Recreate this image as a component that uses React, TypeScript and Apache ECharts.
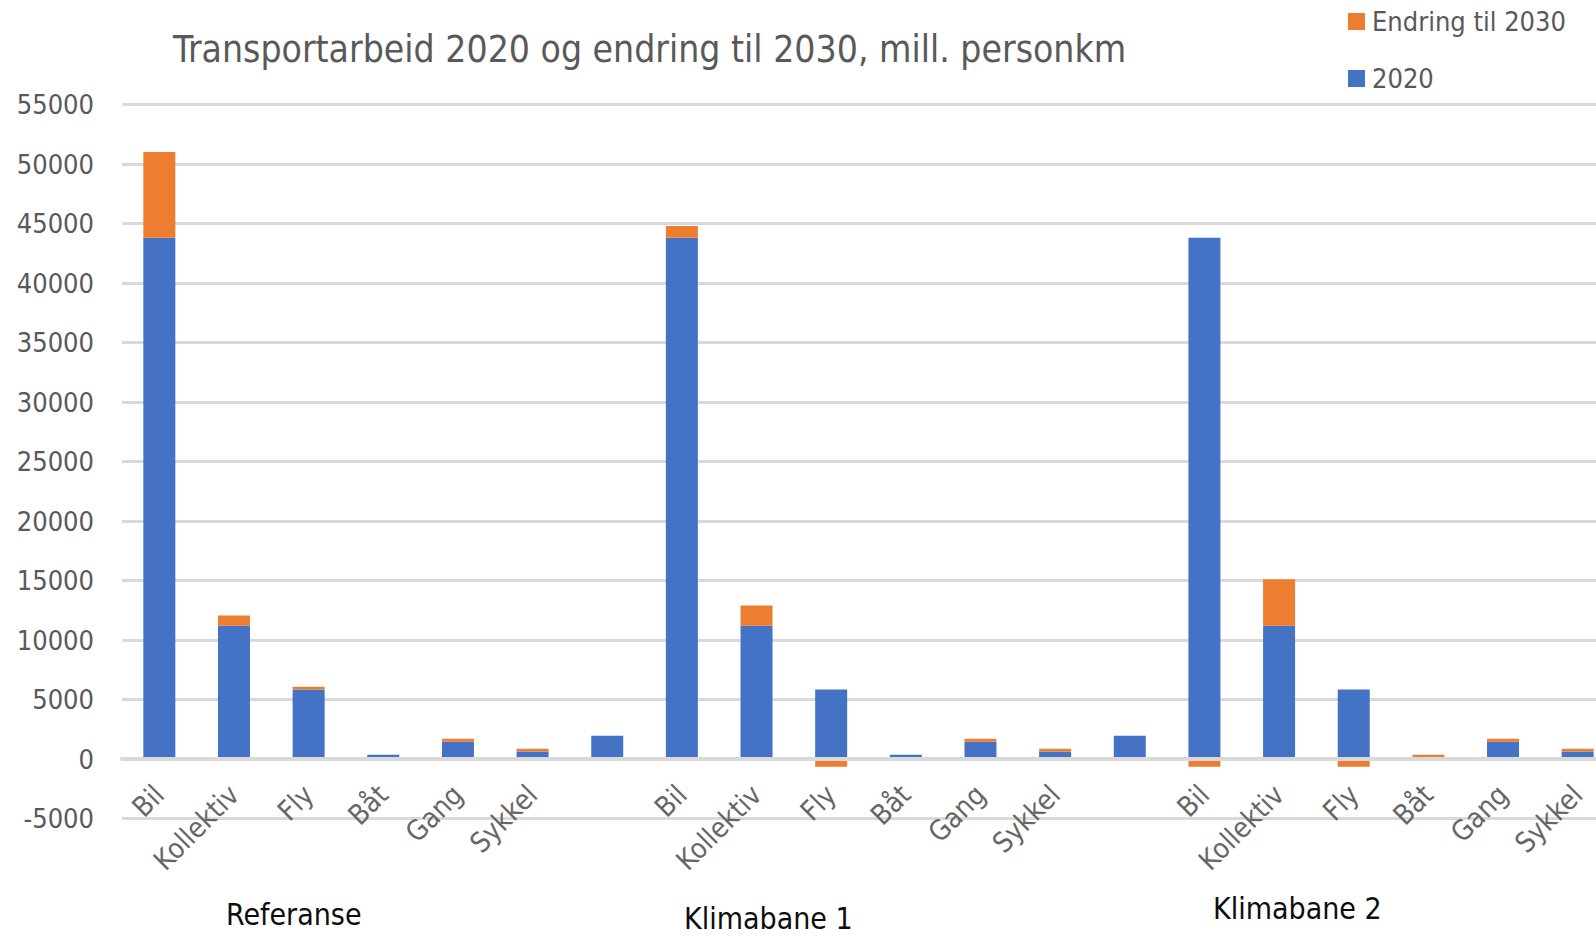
import React, { useEffect, useRef } from "react";
import * as echarts from "echarts";

const categories = [
  "Bil", "Kollektiv", "Fly", "Båt", "Gang", "Sykkel", "",
  "Bil", "Kollektiv", "Fly", "Båt", "Gang", "Sykkel", "",
  "Bil", "Kollektiv", "Fly", "Båt", "Gang", "Sykkel",
];

const values2020 = [
  43800, 11200, 5830, 350, 1460, 620, 1950,
  43800, 11200, 5830, 350, 1460, 620, 1950,
  43800, 11200, 5830, 0, 1460, 620,
];

const valuesChange = [
  7200, 850, 250, 0, 250, 250, 0,
  1000, 1700, -650, 0, 250, 250, 0,
  -650, 3900, -650, 350, 250, 250,
];

const groupLabels = ["Referanse", "Klimabane 1", "Klimabane 2"];

const yTicks = { min: -5000, max: 55000, interval: 5000 };

const FONT = '"DejaVu Sans Condensed", "Liberation Sans Narrow", "Open Sans", sans-serif';

const GRID_TOP = 104.5;
const GRID_BOTTOM_PX = 818.5;
const CHART_W = 1640;
const CHART_H = 936;

export default function App() {
  const ref = useRef<HTMLDivElement>(null);

  useEffect(() => {
    if (!ref.current) return;
    const chart = echarts.init(ref.current, undefined, { renderer: "svg" });
    const plotH = GRID_BOTTOM_PX - GRID_TOP;
    const zeroOffset =
      ((0 - yTicks.min) / (yTicks.max - yTicks.min)) * plotH;
    chart.setOption({
      animation: false,
      backgroundColor: "#ffffff",
      title: {
        text: "Transportarbeid 2020 og endring til 2030, mill. personkm",
        left: 168,
        top: 26,
        textStyle: {
          fontFamily: FONT,
          fontSize: 37,
          fontWeight: "normal",
          color: "#595959",
        },
      },
      legend: {
        data: ["Endring til 2030", "2020"],
        orient: "vertical",
        left: 1343,
        top: 3,
        itemWidth: 17,
        itemHeight: 17,
        itemGap: 30,
        icon: "rect",
        textStyle: {
          fontFamily: FONT,
          fontSize: 27,
          color: "#595959",
          padding: [0, 0, 0, 2],
        },
      },
      grid: {
        left: 122,
        right: 25,
        top: GRID_TOP,
        bottom: CHART_H - GRID_BOTTOM_PX,
        containLabel: false,
      },
      xAxis: {
        type: "category",
        data: categories,
        z: 5,
        offset: -zeroOffset,
        axisLine: {
          onZero: false,
          lineStyle: { color: "#d9d9d9", width: 4 },
        },
        axisTick: { show: false },
        axisLabel: {
          interval: 0,
          rotate: 45,
          margin: 31,
          fontFamily: FONT,
          fontSize: 28,
          color: "#666666",
        },
      },
      yAxis: {
        type: "value",
        min: yTicks.min,
        max: yTicks.max,
        interval: yTicks.interval,
        axisLine: { show: false },
        axisTick: { show: false },
        axisLabel: {
          margin: 28,
          fontFamily: FONT,
          fontSize: 27,
          color: "#595959",
          formatter: (v: number) => String(v),
        },
        splitLine: { lineStyle: { color: "#d9d9d9", width: 3 } },
      },
      series: [
        {
          name: "2020",
          type: "bar",
          stack: "total",
          data: values2020,
          barWidth: 32,
          itemStyle: { color: "#4472C4" },
        },
        {
          name: "Endring til 2030",
          type: "bar",
          stack: "total",
          data: valuesChange,
          barWidth: 32,
          itemStyle: { color: "#ED7D31" },
        },
      ],
      graphic: [
        {
          type: "text",
          left: 226,
          top: 899,
          style: { text: groupLabels[0], font: `30px ${FONT}`, fill: "#0d0d0d" },
        },
        {
          type: "text",
          left: 684,
          top: 903,
          style: { text: groupLabels[1], font: `30px ${FONT}`, fill: "#0d0d0d" },
        },
        {
          type: "text",
          left: 1213,
          top: 893,
          style: { text: groupLabels[2], font: `30px ${FONT}`, fill: "#0d0d0d" },
        },
      ],
    });
    return () => chart.dispose();
  }, []);

  return (
    <div
      style={{
        position: "fixed",
        left: 0,
        top: 0,
        width: 1596,
        height: 936,
        overflow: "hidden",
        background: "#fff",
      }}
    >
      <div ref={ref} style={{ width: CHART_W, height: CHART_H }} />
    </div>
  );
}
